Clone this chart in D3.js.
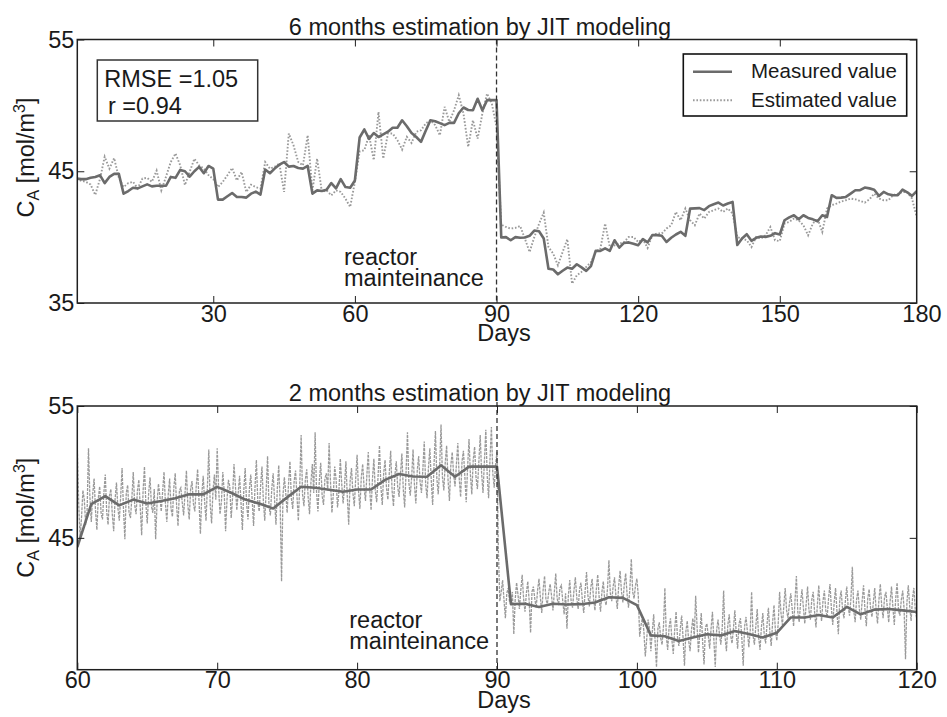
<!DOCTYPE html>
<html lang="en">
<head>
<meta charset="UTF-8">
<script src="https://d3js.org/d3.v7.min.js"></script>
<title>JIT modeling estimation</title>
<style>
  body { margin: 0; background: #fff; }
  svg text { font-family: "Liberation Sans", Arial, Helvetica, sans-serif; fill: #1a1a1a; }
</style>
</head>
<body>
<div id="chart"></div>
<script>
  // daily values, day 1 .. 180
  const measured = [
    44.45, 44.4, 44.4, 44.5, 44.57, 44.7, 44.1, 44.57, 44.8, 44.8,
    43.3, 43.5, 43.75, 43.7, 43.85, 44.0, 43.85, 43.9, 43.9, 43.9,
    44.57, 44.5, 45.1, 45.0, 44.6, 45.0, 45.33, 44.85, 45.4, 45.2,
    42.85, 42.85, 43.1, 43.35, 43.05, 43.05, 43.0, 43.3, 43.45, 43.23,
    45.13, 44.85, 45.2, 45.5, 45.7, 45.35, 45.4, 45.25, 45.2, 45.4,
    43.3, 43.55, 43.5, 43.6, 44.1, 43.7, 44.4, 43.8, 43.75, 44.3,
    47.56, 48.17, 47.46, 47.9, 47.6, 47.8, 48.0, 48.3, 48.3, 48.87,
    48.42, 47.9, 47.6, 47.23, 48.07, 48.87, 48.8, 48.65, 48.5, 48.67,
    48.67, 49.4, 49.84, 49.65, 49.63, 50.5, 49.63, 50.4, 50.4, 50.4,
    39.97, 40.0, 39.76, 40.0, 39.95, 39.97, 40.1, 40.5, 40.45, 39.9,
    37.6, 37.54, 37.18, 37.45, 37.69, 37.6, 37.94, 37.7, 37.44, 37.8,
    38.96, 38.96, 39.15, 38.96, 39.76, 39.2, 39.56, 39.6, 39.5, 39.38,
    39.85, 39.6, 40.15, 40.15, 40.1, 39.63, 39.95, 40.2, 40.4, 40.1,
    42.16, 42.18, 42.2, 42.05, 42.35, 42.5, 42.62, 42.4, 42.55, 42.67,
    39.4, 39.9, 40.22, 39.72, 39.95, 40.05, 40.02, 40.1, 40.3, 40.2,
    41.28, 41.5, 41.66, 41.36, 41.66, 41.46, 41.35, 41.2, 41.66, 41.53,
    43.18, 42.98, 43.0, 43.05, 43.3, 43.56, 43.56, 43.76, 43.7, 43.6,
    43.13, 43.43, 43.25, 43.18, 43.18, 43.6, 43.4, 43.13, 43.48, 43.5
  ];

  const estimated = [
    44.3, 44.3, 44.2, 44.0, 43.2, 44.4, 46.1, 45.2, 46.0, 44.5,
    43.8, 44.1, 44.2, 43.7, 44.45, 44.5, 44.2, 45.05, 43.55, 44.6,
    45.7, 46.35, 45.45, 43.95, 44.95, 45.95, 45.45, 45.2, 44.7, 44.4,
    43.8, 44.19, 44.7, 45.25, 44.3, 44.95, 43.43, 43.98, 43.8, 43.68,
    45.7, 45.2, 45.33, 45.58, 43.43, 47.86, 46.97, 45.7, 45.45, 47.73,
    43.55, 45.96, 43.43, 43.55, 43.17, 43.55, 43.43, 42.92, 42.29, 44.19,
    46.5, 46.6, 47.73, 45.84, 49.5, 45.96, 47.86, 47.86, 47.36, 46.65,
    47.61, 47.15, 47.99, 48.11, 48.62, 48.87, 48.5, 47.73, 49.89, 48.75,
    49.63, 50.77, 49.38, 46.85, 48.87, 47.48, 49.38, 50.9, 50.14, 48.37,
    40.95, 40.77, 40.65, 40.7, 40.85, 39.89, 38.87, 40.0, 41.0, 41.86,
    39.25, 38.75, 37.86, 38.87, 39.84, 36.47, 37.1, 37.36, 37.74, 38.1,
    38.87, 39.13, 41.03, 39.25, 39.38, 39.5, 39.63, 40.01, 40.01, 39.63,
    39.84, 39.18, 40.14, 40.27, 40.27, 40.65, 40.9, 41.91, 41.28, 42.17,
    41.28, 40.9, 41.79, 41.41, 41.91, 42.04, 42.17, 41.91, 42.17, 41.79,
    40.0, 39.9, 39.76, 39.25, 40.01, 39.89, 40.14, 40.77, 39.76, 39.7,
    41.03, 41.15, 41.41, 41.28, 40.9, 40.14, 41.03, 41.41, 40.39, 42.17,
    42.42, 42.55, 42.7, 42.8, 42.93, 42.87, 42.75, 42.62, 42.87, 43.3,
    42.93, 42.8, 42.8, 43.18, 43.3, 43.43, 43.4, 42.93, 41.53, 41.5
  ];

  // high-rate estimate for days 60 .. 120, one value every 0.1 day (one row per day)
  const denseStart = 60;
  const denseStep = 0.1;
  const estimatedDense = [
    52.0, 47.6, 45.0, 46.5, 48.6, 47.9, 46.0, 47.0, 51.8, 48.1,
    46.2, 48.3, 49.5, 47.1, 45.6, 48.0, 48.9, 46.9, 46.4, 48.4,
    49.8, 47.0, 46.0, 48.2, 48.7, 46.8, 45.5, 47.9, 49.2, 47.3,
    46.3, 48.1, 50.3, 47.2, 44.9, 48.4, 49.0, 46.9, 46.5, 48.0,
    50.0, 47.5, 46.8, 48.6, 49.4, 47.3, 45.2, 48.5, 50.4, 47.6,
    46.1, 48.4, 49.6, 47.4, 46.9, 48.7, 44.9, 47.6, 49.1, 48.2,
    47.0, 48.5, 50.0, 47.6, 46.2, 48.3, 49.5, 47.2, 46.6, 48.8,
    49.9, 47.4, 45.9, 48.6, 48.8, 47.7, 46.7, 48.4, 50.1, 47.5,
    46.4, 48.7, 49.3, 47.6, 47.0, 48.9, 50.2, 47.8, 45.3, 48.3,
    49.7, 47.8, 46.3, 48.9, 51.7, 47.5, 46.1, 48.6, 49.8, 47.9,
    51.8, 48.8, 46.8, 47.7, 50.0, 48.5, 45.5, 47.9, 49.4, 48.9,
    46.5, 48.1, 50.6, 49.0, 47.1, 48.4, 49.7, 47.7, 45.6, 48.6,
    50.3, 47.6, 46.4, 48.7, 49.8, 47.9, 45.9, 48.8, 50.9, 47.8,
    47.0, 48.9, 50.4, 47.8, 46.3, 48.6, 51.2, 47.5, 46.7, 48.7,
    49.9, 47.9, 46.0, 48.8, 50.5, 47.6, 41.7, 48.2, 49.6, 48.4,
    46.9, 49.1, 50.8, 48.0, 47.2, 49.3, 50.1, 48.2, 46.3, 49.0,
    52.8, 48.3, 47.4, 49.4, 50.2, 48.1, 46.8, 49.2, 50.6, 48.4,
    53.0, 48.5, 47.0, 49.3, 50.7, 48.2, 47.5, 49.5, 49.9, 48.6,
    52.2, 49.2, 46.9, 48.3, 50.4, 49.4, 47.3, 48.5, 51.0, 49.1,
    47.6, 48.9, 50.8, 48.1, 46.0, 49.3, 50.3, 48.4, 47.4, 49.5,
    51.3, 48.6, 47.2, 49.6, 50.6, 48.8, 47.8, 49.8, 51.5, 48.7,
    47.1, 49.5, 51.0, 48.6, 47.7, 49.7, 52.0, 48.9, 47.5, 49.9,
    50.9, 48.8, 47.9, 49.9, 51.6, 48.6, 47.4, 49.7, 50.8, 48.9,
    48.1, 49.8, 51.4, 48.7, 47.3, 50.0, 53.0, 49.2, 48.2, 49.6,
    51.7, 49.0, 47.6, 50.1, 51.2, 49.3, 48.4, 50.2, 52.3, 49.1,
    48.0, 50.3, 51.8, 49.4, 47.5, 50.6, 53.1, 49.5, 48.3, 50.4,
    53.6, 49.6, 48.6, 50.7, 52.0, 49.4, 47.8, 50.5, 51.5, 49.8,
    48.9, 50.6, 52.2, 49.5, 48.1, 50.8, 51.6, 49.7, 47.7, 50.4,
    52.5, 49.8, 48.3, 50.9, 51.9, 49.6, 48.7, 50.7, 52.8, 49.9,
    48.4, 50.8, 53.2, 49.7, 48.0, 51.0, 53.4, 49.9, 48.8, 50.6,
    51.5, 44.0, 40.2, 40.9, 41.8, 40.3, 38.9, 40.8, 41.2, 40.1,
    40.0, 40.9, 37.7, 40.3, 41.6, 40.7, 39.6, 41.0, 42.2, 40.4,
    39.4, 40.8, 41.7, 40.2, 37.8, 40.9, 41.3, 40.4, 39.7, 41.0,
    41.9, 40.5, 39.3, 41.1, 42.1, 40.3, 40.0, 40.9, 41.5, 40.6,
    39.5, 40.9, 42.3, 40.4, 39.9, 41.2, 41.4, 40.2, 39.2, 40.8,
    38.1, 40.6, 41.8, 40.2, 39.7, 41.0, 42.0, 40.5, 39.6, 41.1,
    41.6, 40.3, 39.3, 41.0, 42.4, 40.6, 39.8, 41.2, 41.9, 40.4,
    39.5, 41.1, 42.2, 40.5, 39.4, 40.9, 41.7, 40.3, 39.9, 41.2,
    43.3, 40.8, 40.2, 41.3, 42.0, 40.6, 39.6, 41.4, 42.5, 40.9,
    40.1, 41.5, 42.3, 40.7, 39.7, 41.2, 43.4, 40.9, 40.4, 41.4,
    41.9, 40.6, 37.5, 38.4, 39.0, 37.9, 36.0, 37.3, 38.8, 38.1,
    36.4, 37.9, 39.2, 37.2, 35.2, 38.1, 38.6, 37.4, 36.9, 38.3,
    41.2, 37.6, 36.5, 38.2, 38.9, 37.3, 36.2, 38.0, 39.4, 37.5,
    36.8, 38.1, 39.1, 37.4, 35.3, 37.9, 38.7, 37.2, 36.4, 38.0,
    38.9, 37.5, 40.6, 38.3, 36.3, 37.8, 39.3, 37.1, 35.4, 38.2,
    38.5, 37.6, 36.6, 38.1, 39.4, 37.3, 35.2, 38.0, 38.8, 37.7,
    36.9, 38.2, 41.0, 37.5, 36.4, 38.4, 39.2, 37.6, 37.0, 38.1,
    39.5, 37.8, 36.6, 38.5, 38.9, 37.4, 35.3, 38.3, 39.0, 37.9,
    36.7, 38.0, 40.9, 37.6, 36.9, 38.3, 39.6, 37.5, 36.5, 38.2,
    39.3, 37.7, 37.0, 38.4, 39.7, 37.9, 36.8, 38.6, 39.9, 38.0,
    37.2, 38.5, 40.9, 39.3, 38.4, 39.8, 41.2, 39.5, 38.9, 40.0,
    40.8, 39.6, 38.3, 40.2, 42.1, 39.4, 38.6, 40.1, 41.1, 39.7,
    38.5, 40.0, 41.3, 39.5, 38.8, 40.3, 40.9, 39.4, 38.2, 39.9,
    41.4, 39.6, 38.7, 40.2, 41.0, 39.5, 39.0, 40.4, 41.5, 39.7,
    38.4, 40.1, 41.2, 39.4, 37.7, 40.3, 41.0, 39.6, 38.9, 40.2,
    41.3, 39.8, 39.1, 40.4, 42.8, 39.5, 38.6, 40.3, 41.0, 39.6,
    38.8, 40.2, 41.4, 39.6, 38.3, 40.4, 41.1, 39.7, 39.0, 40.1,
    41.2, 39.5, 38.5, 40.3, 41.5, 39.8, 38.9, 40.5, 40.9, 39.7,
    38.6, 40.2, 41.3, 39.7, 38.4, 40.4, 41.6, 39.5, 39.1, 40.3,
    41.0, 39.6, 35.8, 40.1, 41.4, 39.8, 38.7, 40.4, 41.2, 39.5,
    38.9
  ];

  const topTicksX = [30, 60, 90, 120, 150, 180];
  const bottomTicksX = [60, 70, 80, 90, 100, 110, 120];
  const topTicksY = [35, 45, 55];
  const bottomTicksY = [45, 55];
  const maintenanceDay = 90;
  const legendLabels = ['Measured value', 'Estimated value'];

  const W = 947, H = 717;
  const solidColor = '#6b6b6b';
  const dotColor = '#9a9a9a';
  const ink = '#1f1f1f';
  const fontSize = '23.5px';

  const svg = d3.select('#chart').append('svg')
    .attr('width', W)
    .attr('height', H);

  const measuredPts = measured.map((v, i) => ({ d: i + 1, v }));
  const estimatedPts = estimated.map((v, i) => ({ d: i + 1, v }));
  const densePts = estimatedDense.map((v, i) => ({ d: denseStart + i * denseStep, v }));

  function drawPanel(cfg) {
    const x = d3.scaleLinear().domain(cfg.xDomain).range([cfg.left, cfg.right]);
    const y = d3.scaleLinear().domain([35, 55]).range([cfg.bottom, cfg.top]);
    const g = svg.append('g');

    g.append('clipPath').attr('id', cfg.id)
      .append('rect')
      .attr('x', cfg.left).attr('y', cfg.top)
      .attr('width', cfg.right - cfg.left).attr('height', cfg.bottom - cfg.top);

    const line = d3.line().x(p => x(p.d)).y(p => y(p.v));
    const plot = g.append('g').attr('clip-path', `url(#${cfg.id})`);

    plot.append('path')
      .datum(cfg.estimate)
      .attr('d', line)
      .attr('fill', 'none')
      .attr('stroke', dotColor)
      .attr('stroke-width', cfg.estWidth)
      .attr('stroke-dasharray', cfg.estDash);

    plot.append('path')
      .datum(cfg.measure)
      .attr('d', line)
      .attr('fill', 'none')
      .attr('stroke', solidColor)
      .attr('stroke-width', 2.6)
      .attr('stroke-linejoin', 'round');

    // maintenance marker
    g.append('line')
      .attr('x1', x(maintenanceDay)).attr('x2', x(maintenanceDay))
      .attr('y1', cfg.top - cfg.dashOver).attr('y2', cfg.bottom)
      .attr('stroke', '#333')
      .attr('stroke-width', 1.3)
      .attr('stroke-dasharray', '5,3');

    const inRange = t => t >= cfg.xDomain[0] && t <= cfg.xDomain[1];

    // axes, ticks pointing inwards
    const xAxis = g.append('g').attr('transform', `translate(0,${cfg.bottom})`)
      .call(d3.axisBottom(x).tickValues(cfg.xTicks).tickSizeInner(-7).tickSizeOuter(0).tickPadding(2));
    xAxis.selectAll('line').attr('stroke', ink).attr('display', t => inRange(t) ? null : 'none');

    const xTop = g.append('g').attr('transform', `translate(0,${cfg.top})`)
      .call(d3.axisTop(x).tickValues(cfg.xTicks.filter(inRange)).tickSizeInner(-7).tickSizeOuter(0).tickFormat(''));
    xTop.selectAll('line').attr('stroke', ink);

    const yAxis = g.append('g').attr('transform', `translate(${cfg.left},0)`)
      .call(d3.axisLeft(y).tickValues(cfg.yTicks).tickSizeInner(-7).tickSizeOuter(0).tickPadding(3));
    yAxis.selectAll('line').attr('stroke', ink);

    const yRight = g.append('g').attr('transform', `translate(${cfg.right},0)`)
      .call(d3.axisRight(y).tickValues(cfg.yTicks).tickSizeInner(-7).tickSizeOuter(0).tickFormat(''));
    yRight.selectAll('line').attr('stroke', ink);

    g.selectAll('.domain').remove();
    g.selectAll('.tick text').style('font-size', fontSize).attr('fill', ink);

    g.append('rect')
      .attr('x', cfg.left).attr('y', cfg.top)
      .attr('width', cfg.right - cfg.left).attr('height', cfg.bottom - cfg.top)
      .attr('fill', 'none')
      .attr('stroke', ink)
      .attr('stroke-width', 1.5);

    // title and axis labels
    g.append('text')
      .attr('x', 480).attr('y', cfg.top - 5)
      .attr('text-anchor', 'middle')
      .style('font-size', fontSize)
      .text(cfg.title);

    g.append('text')
      .attr('x', 504).attr('y', cfg.daysY)
      .attr('text-anchor', 'middle')
      .style('font-size', fontSize)
      .text('Days');

    const yl = g.append('text')
      .attr('transform', `translate(34,${cfg.yLabelMid}) rotate(-90)`)
      .attr('text-anchor', 'middle')
      .style('font-size', fontSize);
    yl.append('tspan').text('C');
    yl.append('tspan').style('font-size', '16px').attr('dy', 5).text('A');
    yl.append('tspan').attr('dy', -5).text(' [mol/m');
    yl.append('tspan').style('font-size', '16px').attr('dy', -9).text('3');
    yl.append('tspan').attr('dy', 9).text(']');

    const note = g.append('text')
      .attr('x', cfg.noteX).attr('y', cfg.noteY)
      .style('font-size', fontSize);
    note.append('tspan').attr('x', cfg.noteX).text('reactor');
    note.append('tspan').attr('x', cfg.noteX).attr('dy', 20.5).text('mainteinance');

    return g;
  }

  const topPanel = drawPanel({
    id: 'clipTop', left: 77.3, right: 916.7, top: 39.5, bottom: 303,
    xDomain: [1.2, 179], xTicks: topTicksX, yTicks: topTicksY,
    measure: measuredPts, estimate: estimatedPts,
    estWidth: 1.9, estDash: '1.6,1.8', dashOver: 0,
    title: '6 months estimation by JIT modeling',
    daysY: 341, yLabelMid: 157.5, noteX: 344, noteY: 265
  });

  drawPanel({
    id: 'clipBottom', left: 77.3, right: 916.7, top: 406, bottom: 669.7,
    xDomain: [60, 120], xTicks: bottomTicksX, yTicks: bottomTicksY,
    measure: measuredPts.filter(p => p.d >= 60 && p.d <= 120),
    estimate: densePts,
    estWidth: 1.3, estDash: '3,1', dashOver: 4,
    title: '2 months estimation by JIT modeling',
    daysY: 708, yLabelMid: 517.7, noteX: 349.3, noteY: 628.3
  });

  // statistics box
  topPanel.append('rect')
    .attr('x', 97.3).attr('y', 60).attr('width', 160.4).attr('height', 61)
    .attr('fill', '#fff').attr('stroke', '#333').attr('stroke-width', 1.5);
  topPanel.append('text').attr('x', 104.3).attr('y', 87.3)
    .style('font-size', fontSize).text('RMSE =1.05');
  topPanel.append('text').attr('x', 108).attr('y', 114)
    .style('font-size', fontSize).text('r =0.94');

  // legend
  const legend = topPanel.append('g');
  legend.append('rect')
    .attr('x', 683.3).attr('y', 54).attr('width', 223.4).attr('height', 62)
    .attr('fill', '#fff').attr('stroke', '#111').attr('stroke-width', 1.6);
  const legendStyles = [
    { color: solidColor, width: 2.6, dash: null },
    { color: dotColor, width: 1.9, dash: '1.6,1.8' }
  ];
  legendLabels.forEach((label, i) => {
    const ly = 71.7 + i * 28.5;
    legend.append('line')
      .attr('x1', 693).attr('x2', 732).attr('y1', ly).attr('y2', ly)
      .attr('stroke', legendStyles[i].color)
      .attr('stroke-width', legendStyles[i].width)
      .attr('stroke-dasharray', legendStyles[i].dash);
    legend.append('text')
      .attr('x', 751).attr('y', ly + 6.5)
      .style('font-size', '20.5px')
      .text(label);
  });
</script>
</body>
</html>
